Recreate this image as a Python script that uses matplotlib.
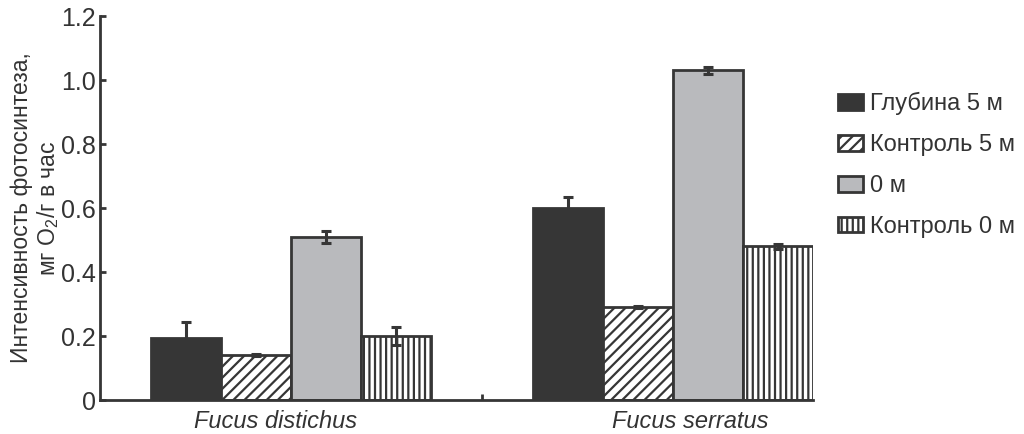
import numpy as np
import matplotlib.pyplot as plt

# --------------------------------------------------------------------------------------------------
species = ["Fucus distichus", "Fucus serratus"]
series = ["Глубина 5 м", "Контроль 5 м", "0 м", "Контроль 0 м"]
depth5 = [0.195, 0.60]
control5 = [0.14, 0.29]
surface0 = [0.51, 1.03]
control0 = [0.20, 0.48]
depth5_err = [0.05, 0.035]
control5_err = [0.004, 0.003]
surface0_err = [0.018, 0.01]
control0_err = [0.027, 0.008]
y_ticks = [0, 0.2, 0.4, 0.6, 0.8, 1.0, 1.2]
y_tick_labels = ["0", "0.2", "0.4", "0.6", "0.8", "1.0", "1.2"]
# --------------------------------------------------------------------------------------------------
DARK = "#363636"
EDGE = "#363636"
GRAY = "#b9babd"
TEXT = "#333333"
FILE_FIG = "out.png"


def main():
    plt.rcParams["font.family"] = ["Liberation Sans", "DejaVu Sans"]
    plt.rcParams["mathtext.fontset"] = "custom"
    plt.rcParams["mathtext.rm"] = "Liberation Sans"
    plt.rcParams["hatch.linewidth"] = 1.6
    plt.rcParams["hatch.color"] = EDGE

    fig = plt.figure(figsize=(10.24, 4.34), dpi=100)
    ax = fig.add_axes([100 / 1024, 34 / 434, 713 / 1024, 384 / 434])

    x = np.arange(len(species))
    w = 0.183
    values = [depth5, control5, surface0, control0]
    errors = [depth5_err, control5_err, surface0_err, control0_err]
    faces = [DARK, "white", GRAY, "white"]
    hatches = [None, "///", None, "|||"]
    ekw = dict(ecolor=EDGE, elinewidth=2.2, capsize=3.5, capthick=2.2)

    for i in range(4):
        ax.bar(x + (i - 1.5) * w, values[i], w, yerr=errors[i], color=faces[i],
               edgecolor=EDGE, linewidth=2, hatch=hatches[i], label=series[i],
               error_kw=ekw)

    ax.set_xlim(-0.5, 1.366)
    ax.set_ylim(0, 1.2)
    ax.set_yticks(y_ticks, y_tick_labels, fontsize=18, color=TEXT)
    ax.set_xticks([0.5], [""])
    ax.set_xticks([-0.04, 1.045], species, minor=True, fontsize=17, style="italic",
                  color=TEXT)
    ax.tick_params(axis="both", which="major", direction="in", length=4, width=2,
                   color=EDGE, pad=3)
    ax.tick_params(axis="x", which="minor", length=0, pad=7)
    ax.set_ylabel("Интенсивность фотосинтеза,\nмг O$_2$/г в час", fontsize=16.5,
                  color=TEXT, labelpad=0, linespacing=1.1)

    for side in ["top", "right"]:
        ax.spines[side].set_visible(False)
    for side in ["left", "bottom"]:
        ax.spines[side].set_linewidth(2)
        ax.spines[side].set_color(EDGE)

    fig.legend(loc="upper left", bbox_to_anchor=(838 / 1024, 1 - 92 / 434), frameon=False,
               fontsize=17, handlelength=1.05, handleheight=0.65, handletextpad=0.3,
               labelspacing=0.8, borderpad=0, borderaxespad=0, labelcolor=TEXT)

    plt.savefig(FILE_FIG)
    plt.close()
# --------------------------------------------------------------------------------------------------


if __name__ == '__main__':
    main()
